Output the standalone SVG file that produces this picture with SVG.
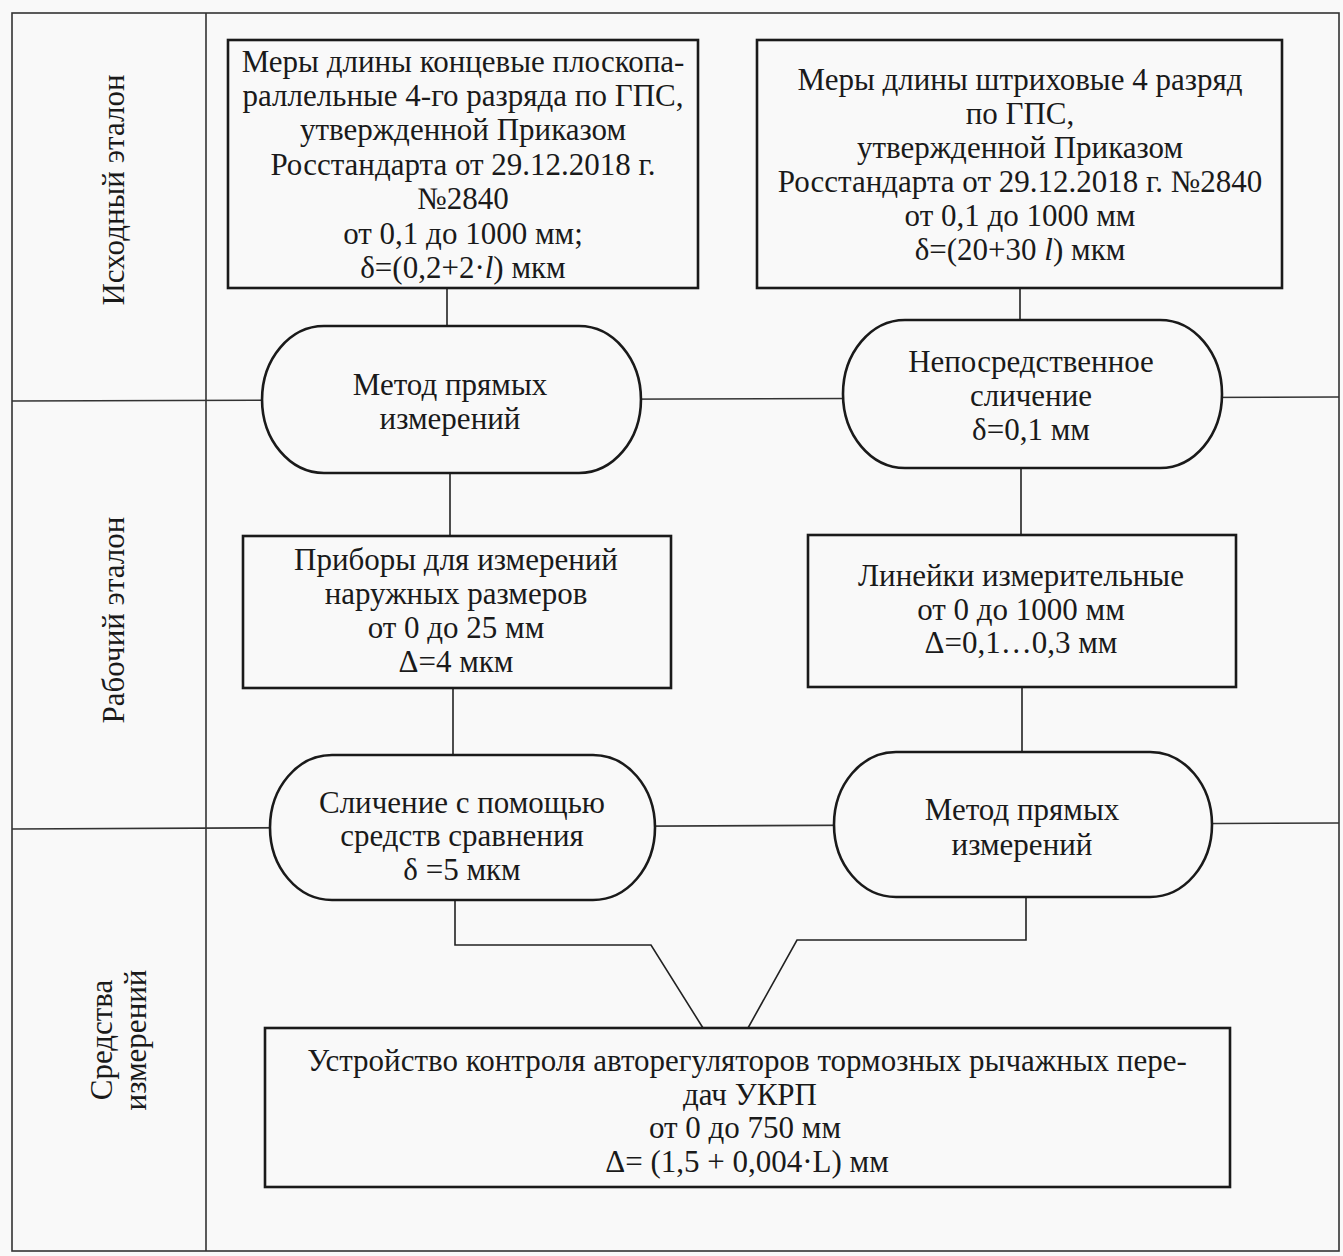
<svg xmlns="http://www.w3.org/2000/svg" width="1343" height="1256" viewBox="0 0 1343 1256">
<style>
.grid{fill:none;stroke:#333;stroke-width:1.6}
.box{fill:#f9f9f9;stroke:#1a1a1a;stroke-width:2.6}
.con{fill:none;stroke:#222;stroke-width:1.6}
text{font-family:"Liberation Serif","Times New Roman",serif;font-size:31px;fill:#1a1a1a;text-anchor:middle}
</style>
<rect x="0" y="0" width="1343" height="1256" fill="#f9f9f9"/>
<g id="frame">
<rect class="grid" x="12" y="13" width="1327" height="1238"/>
<line class="grid" x1="206" y1="13" x2="206" y2="1251"/>
<line class="grid" x1="12" y1="401" x2="1339" y2="397"/>
<line class="grid" x1="12" y1="829" x2="1339" y2="823"/>
</g>
<g id="lane-labels">
<text transform="translate(124,190) rotate(-90)">Исходный эталон</text>
<text transform="translate(124,620) rotate(-90)">Рабочий эталон</text>
<text transform="translate(112,1040) rotate(-90)">Средства</text>
<text transform="translate(146,1040) rotate(-90)">измерений</text>
</g>
<g id="connectors">
<line class="con" x1="447" y1="288" x2="447" y2="326"/>
<line class="con" x1="1020" y1="288" x2="1020" y2="320"/>
<line class="con" x1="450" y1="473" x2="450" y2="536"/>
<line class="con" x1="1021" y1="468" x2="1021" y2="535"/>
<line class="con" x1="453" y1="688" x2="453" y2="755"/>
<line class="con" x1="1022" y1="687" x2="1022" y2="752"/>
<polyline class="con" points="455,900 455,945 651,945 703,1028"/>
<polyline class="con" points="1026,897 1026,940 797,940 748,1028"/>
</g>
<g id="n1">
<rect class="box" x="228" y="40" width="470" height="248"/>
<text x="463" y="72">Меры длины концевые плоскопа-</text>
<text x="463" y="106">раллельные 4-го разряда по ГПС,</text>
<text x="463" y="140">утвержденной Приказом</text>
<text x="463" y="175">Росстандарта от 29.12.2018 г.</text>
<text x="463" y="209">№2840</text>
<text x="463" y="244">от 0,1 до 1000 мм;</text>
<text x="463" y="278">δ=(0,2+2·<tspan font-style="italic">l</tspan>) мкм</text>
</g>
<g id="n2">
<rect class="box" x="757" y="40" width="525" height="248"/>
<text x="1020" y="90">Меры длины штриховые 4 разряд</text>
<text x="1020" y="124">по ГПС,</text>
<text x="1020" y="158">утвержденной Приказом</text>
<text x="1020" y="192">Росстандарта от 29.12.2018 г. №2840</text>
<text x="1020" y="226">от 0,1 до 1000 мм</text>
<text x="1020" y="260">δ=(20+30 <tspan font-style="italic">l</tspan>) мкм</text>
</g>
<g id="n3">
<path class="box" d="M324,326 H579 A62,73.5 0 0 1 579,473 H324 A62,73.5 0 0 1 324,326 Z"/>
<text x="450" y="395">Метод прямых</text>
<text x="450" y="429">измерений</text>
</g>
<g id="n4">
<path class="box" d="M905,320 H1160 A62,74 0 0 1 1160,468 H905 A62,74 0 0 1 905,320 Z"/>
<text x="1031" y="372">Непосредственное</text>
<text x="1031" y="406">сличение</text>
<text x="1031" y="440">δ=0,1 мм</text>
</g>
<g id="n5">
<rect class="box" x="243" y="536" width="428" height="152"/>
<text x="456" y="570">Приборы для измерений</text>
<text x="456" y="604">наружных размеров</text>
<text x="456" y="638">от 0 до 25 мм</text>
<text x="456" y="672">Δ=4 мкм</text>
</g>
<g id="n6">
<rect class="box" x="808" y="535" width="428" height="152"/>
<text x="1021" y="586">Линейки измерительные</text>
<text x="1021" y="620">от 0 до 1000 мм</text>
<text x="1021" y="653">Δ=0,1…0,3 мм</text>
</g>
<g id="n7">
<path class="box" d="M332,755 H593 A62,72.5 0 0 1 593,900 H332 A62,72.5 0 0 1 332,755 Z"/>
<text x="462" y="813">Сличение с помощью</text>
<text x="462" y="846">средств сравнения</text>
<text x="462" y="880">δ =5 мкм</text>
</g>
<g id="n8">
<path class="box" d="M896,752 H1150 A62,72.5 0 0 1 1150,897 H896 A62,72.5 0 0 1 896,752 Z"/>
<text x="1022" y="820">Метод прямых</text>
<text x="1022" y="855">измерений</text>
</g>
<g id="n9">
<rect class="box" x="265" y="1028" width="965" height="159"/>
<text x="747" y="1071">Устройство контроля авторегуляторов тормозных рычажных пере-</text>
<text x="750" y="1105">дач УКРП</text>
<text x="745" y="1138">от 0 до 750 мм</text>
<text x="747" y="1172">Δ= (1,5 + 0,004·L) мм</text>
</g>
</svg>
